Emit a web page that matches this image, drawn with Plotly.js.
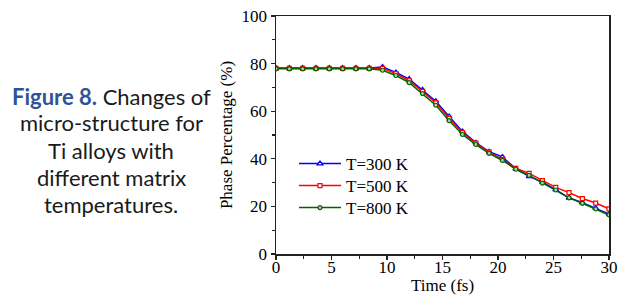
<!DOCTYPE html>
<html>
<head>
<meta charset="utf-8">
<script src="https://cdn.plot.ly/plotly-3.0.1.min.js"></script>
<style>
html,body{margin:0;padding:0;background:#fff;}
#chart{width:619px;height:299px;}
</style>
</head>
<body>
<div id="chart"></div>
<script>
const time = [0, 1.2, 2.4, 3.6, 4.8, 6.0, 7.2, 8.4, 9.6, 10.8, 12.0, 13.2, 14.4, 15.6, 16.8, 18.0, 19.2, 20.4, 21.6, 22.8, 24.0, 25.2, 26.4, 27.6, 28.8, 30.0];
const t300 = [78.2, 78.2, 78.2, 78.2, 78.2, 78.2, 78.2, 78.2, 78.6, 76.3, 73.5, 69.0, 64.2, 57.8, 51.5, 46.8, 43.0, 40.8, 35.8, 32.6, 30.2, 27.0, 23.6, 21.6, 19.3, 16.8];
const t500 = [78.0, 78.0, 78.0, 78.0, 78.0, 78.0, 78.0, 78.0, 78.0, 75.8, 72.8, 68.3, 63.5, 57.0, 51.0, 46.6, 42.8, 39.8, 36.0, 33.9, 30.8, 28.0, 25.8, 23.3, 21.4, 19.0];
const t800 = [77.8, 77.8, 77.8, 77.8, 77.8, 77.8, 77.8, 77.8, 77.2, 75.0, 72.0, 67.4, 62.5, 56.0, 50.2, 46.0, 42.3, 39.3, 35.6, 33.0, 29.8, 26.9, 23.6, 21.3, 18.9, 16.4];
const seriesNames = ["T=300 K", "T=500 K", "T=800 K"];
const xTicks = [0, 5, 10, 15, 20, 25, 30];
const yTicks = [0, 20, 40, 60, 80, 100];
const xTitle = "Time (fs)";
const yTitle = "Phase Percentage (%)";
const captionLines = ["micro-structure for", "Ti alloys with", "different matrix", "temperatures."];

const serif = "Liberation Serif, Times New Roman, serif";
const traces = [
  {x: time, y: t300, name: seriesNames[0], mode: "lines+markers", legend: "legend",
   line: {color: "#0000ff", width: 1.5},
   marker: {symbol: "triangle-up", size: 5, color: "#ffffff", line: {color: "#0000ff", width: 1.2}}},
  {x: time, y: t500, name: seriesNames[1], mode: "lines+markers", legend: "legend2",
   line: {color: "#ff0000", width: 1.5},
   marker: {symbol: "square", size: 4, color: "#ffffff", line: {color: "#ff0000", width: 1.2}}},
  {x: time, y: t800, name: seriesNames[2], mode: "lines+markers", legend: "legend3",
   line: {color: "#006400", width: 1.5},
   marker: {symbol: "circle", size: 4, color: "#a8d8a8", line: {color: "#006400", width: 1.2}}}
];

const L = 276, R = 10, T = 16, B = 45, W = 619, H = 299;
const pw = W - L - R, ph = H - T - B;
const px2x = p => (p - L) / pw;
const py2y = p => (H - B - p) / ph;

const capFont = {family: "Lato, Noto Sans, sans-serif", size: 22, color: "#1a1a1a"};
const annotations = [];
annotations.push({
  xref: "paper", yref: "paper", x: px2x(111), y: py2y(96), xanchor: "center", yanchor: "middle",
  showarrow: false,
  text: "<b><span style='color:#2f5496'>Figure 8.</span></b> Changes of",
  font: capFont
});
captionLines.forEach((s, i) => {
  annotations.push({
    xref: "paper", yref: "paper", x: px2x(111), y: py2y(123 + 27 * i), xanchor: "center", yanchor: "middle",
    showarrow: false, text: s, font: capFont
  });
});
// x-axis title placed just under the tick labels, as in the reference
annotations.push({
  xref: "paper", yref: "paper", x: 0.5, y: py2y(285), xanchor: "center", yanchor: "middle",
  showarrow: false, text: xTitle, font: {family: serif, size: 17, color: "#000"}
});

const legendBase = y => ({
  x: px2x(294), y: py2y(y), xanchor: "left", yanchor: "middle",
  bgcolor: "rgba(0,0,0,0)", font: {family: serif, size: 17, color: "#000"},
  itemwidth: 42
});

const layout = {
  width: W, height: H,
  margin: {l: L, r: R, t: T, b: B, pad: 0},
  paper_bgcolor: "#ffffff", plot_bgcolor: "#ffffff",
  font: {family: serif, size: 17, color: "#000"},
  showlegend: true,
  legend: legendBase(164),
  legend2: legendBase(186),
  legend3: legendBase(208),
  xaxis: {
    range: [0, 30], tickvals: xTicks, ticktext: xTicks.map(String),
    showline: true, mirror: true, linecolor: "#222", linewidth: 1.5,
    ticks: "outside", ticklen: 4, tickwidth: 1.2, tickcolor: "#222",
    minor: {dtick: 2.5, ticks: "outside", ticklen: 3, tickcolor: "#222"},
    showgrid: false, zeroline: false,
    ticklabelstandoff: -7,
    tickfont: {family: serif, size: 17}
  },
  yaxis: {
    range: [0, 100], tickvals: yTicks, ticktext: yTicks.map(String),
    showline: true, mirror: true, linecolor: "#222", linewidth: 1.5,
    ticks: "outside", ticklen: 4, tickwidth: 1.2, tickcolor: "#222",
    minor: {dtick: 10, ticks: "outside", ticklen: 3, tickcolor: "#222"},
    showgrid: false, zeroline: false,
    tickfont: {family: serif, size: 17},
    title: {text: yTitle, font: {family: serif, size: 17}, standoff: 4}
  },
  annotations: annotations
};

Plotly.newPlot("chart", traces, layout, {displayModeBar: false, staticPlot: true});
</script>
</body>
</html>
